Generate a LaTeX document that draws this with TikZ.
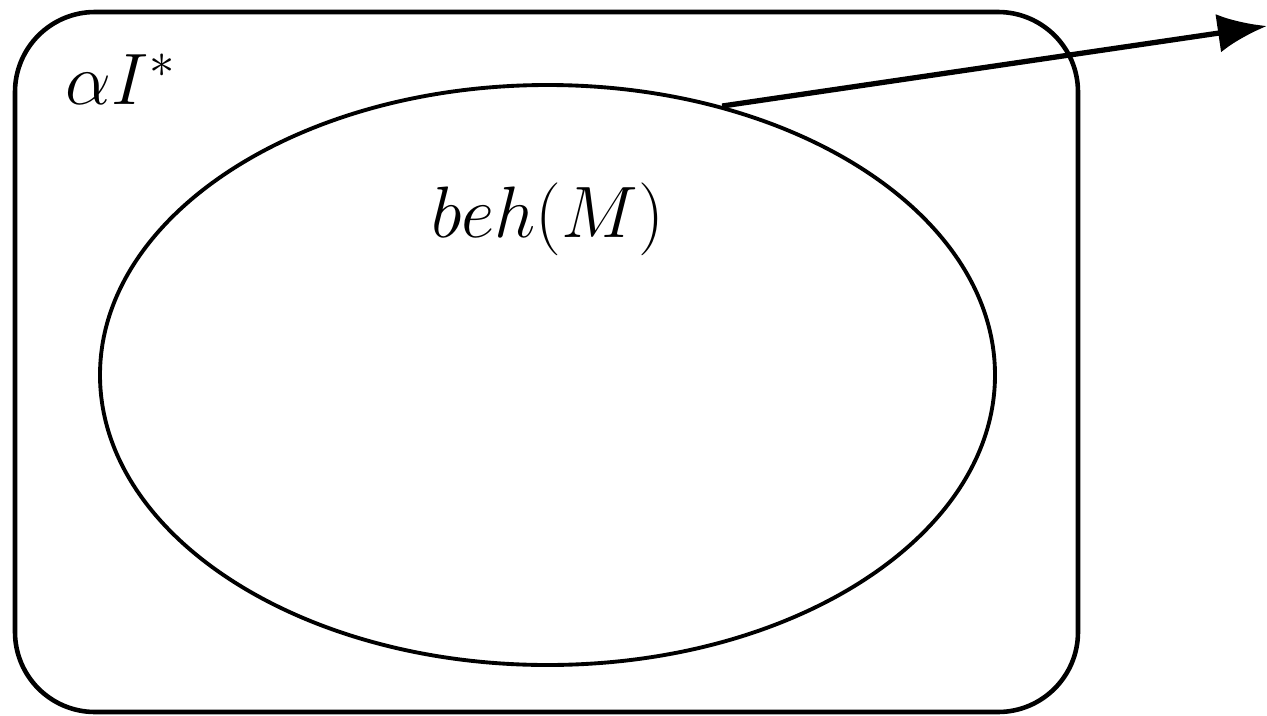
\documentclass[tikz,border=0pt]{standalone}
\usepackage{amsmath,amssymb}
\usetikzlibrary{arrows.meta,positioning,shapes.geometric}

\begin{document}
\begin{tikzpicture}[>=Latex, line width=1.3pt,
  lbl/.style={inner sep=0pt, font=\fontsize{20}{24}\selectfont}]
  \useasboundingbox (0,0) rectangle (12.67,7.15);
  \node[draw, rounded corners=0.8cm, minimum width=10.63cm, minimum height=7.0cm,
        inner sep=0pt] (frame) at (5.465,3.53) {};
  \node[draw, ellipse, line width=1.1pt, minimum width=8.95cm, minimum height=5.8cm,
        inner sep=0pt] (beh) at (5.475,3.40) {};
  \node[lbl] (alpha) at (1.21,6.36) {$\alpha I^*$};
  \node[lbl, below=0.98cm of beh.north] (behM) {$beh(M)$};
  \coordinate (tip) at (12.67,6.89);
  \draw[-{Latex[length=14pt,width=11pt]}, line width=1.5pt] (beh.57) -- (tip);
\end{tikzpicture}
\end{document}
